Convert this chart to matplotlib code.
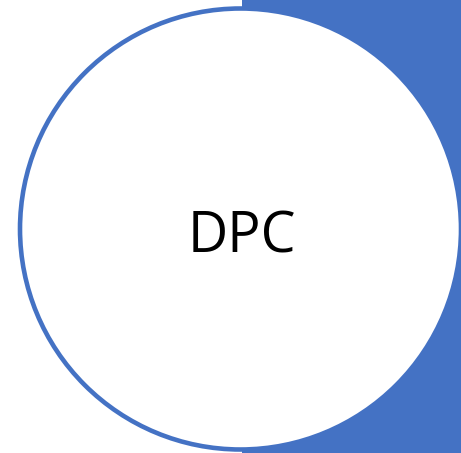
import matplotlib.pyplot as plt
from matplotlib.patches import Circle, Rectangle

# shape layout (pixels)
label = "DPC"
circle_center = [240.5, 229]
circle_radius = 220.5
band_left = 242
width, height = 461, 453
blue = "#4472C4"

fig = plt.figure(figsize=(width / 100, height / 100), dpi=100)
ax = fig.add_axes([0, 0, 1, 1])
ax.set_xlim(0, width)
ax.set_ylim(height, 0)
ax.axis("off")

# blue band behind the circle
ax.add_patch(Rectangle((band_left, 0), width - band_left, height, facecolor=blue, edgecolor="none"))
ax.add_patch(Circle(circle_center, circle_radius, facecolor="white", edgecolor=blue, linewidth=3.3))

ax.text(242, 238, label, fontsize=40, family="Open Sans",
        ha="center", va="center", color="black")

fig.savefig("out.png", dpi=100)
